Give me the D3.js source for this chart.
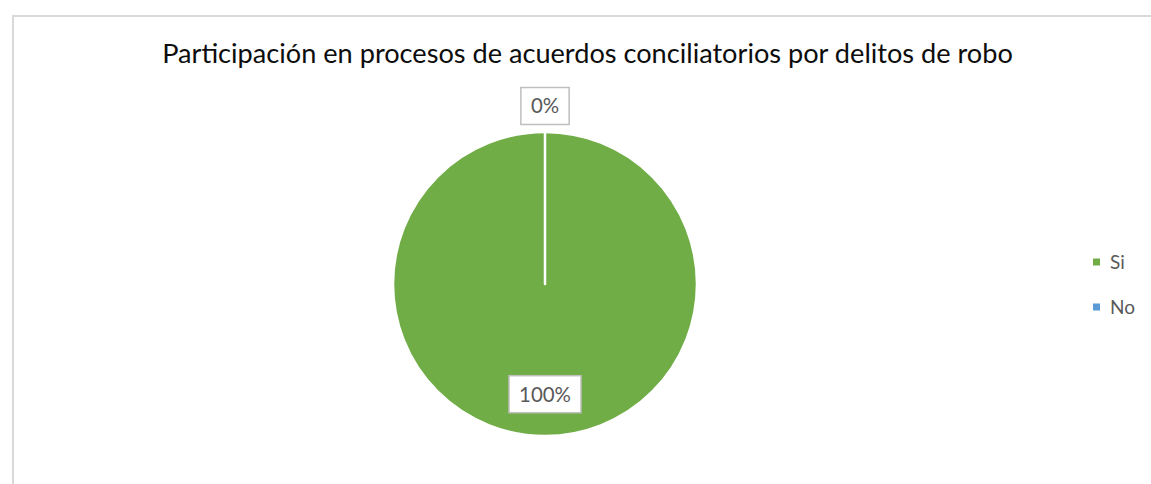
<!DOCTYPE html>
<html>
<head>
<meta charset="utf-8">
<script src="https://cdn.jsdelivr.net/npm/d3@7"></script>
<style>
  body { margin: 0; background: #fff; }
  svg { display: block; font-family: "Lato", "Open Sans", sans-serif; }
</style>
</head>
<body>
<div id="chart"></div>
<script>
// Pie data
var categories = ["Si", "No"];
var values = [100, 0];
var colours = ["#70ad47", "#5b9bd5"];
var title = "Participación en procesos de acuerdos conciliatorios por delitos de robo";

var width = 1151, height = 484;
var cx = 545, cy = 284, radius = 152;

var svg = d3.select("#chart").append("svg")
    .attr("width", width)
    .attr("height", height);

// scale a text's font-size so it covers a given width
function fitText(sel, baseSize, targetWidth) {
    sel.style("font-size", baseSize + "px");
    var w = sel.node().getComputedTextLength();
    var size = baseSize * targetWidth / w;
    sel.style("font-size", size + "px");
    return size;
}

// Chart frame (right and bottom edges fall outside the picture)
svg.append("rect")
    .attr("x", 13).attr("y", 16)
    .attr("width", 1160).attr("height", 500)
    .attr("fill", "#fff")
    .attr("stroke", "#d9d9d9")
    .attr("stroke-width", 2);

// Title
var titleText = svg.append("text")
    .attr("x", 587.5)
    .attr("y", 63)
    .attr("text-anchor", "middle")
    .attr("fill", "#0d0d0d")
    .text(title);
fitText(titleText, 22, 851);

var pie = d3.pie().sort(null).value(function (d) { return d; });
var arcs = pie(values);
var arc = d3.arc().innerRadius(0).outerRadius(radius);

var g = svg.append("g")
    .attr("transform", "translate(" + cx + "," + cy + ")");

g.selectAll("path.slice")
    .data(arcs)
    .enter()
    .append("path")
    .attr("class", "slice")
    .attr("d", arc)
    .attr("fill", function (d, i) { return colours[i]; })
    .attr("stroke", "#fff")
    .attr("stroke-width", 2.5)
    .attr("stroke-linejoin", "round");

// Data labels: inside for big slices, just outside for empty ones
var labelArcIn = d3.arc().innerRadius(radius * 0.725).outerRadius(radius * 0.725);
var labelArcOut = d3.arc().innerRadius(radius + 26).outerRadius(radius + 26);
var total = d3.sum(values);

var probe = svg.append("text").text("100%");
var labelSize = fitText(probe, 20, 52);
probe.remove();

var labels = g.selectAll("g.label")
    .data(arcs)
    .enter()
    .append("g")
    .attr("class", "label")
    .attr("transform", function (d) {
        var c = (d.endAngle - d.startAngle) > 0.5 ? labelArcIn.centroid(d) : labelArcOut.centroid(d);
        return "translate(" + c[0] + "," + c[1] + ")";
    });

labels.append("text")
    .attr("text-anchor", "middle")
    .attr("dy", "0.36em")
    .attr("fill", "#595959")
    .style("font-size", labelSize + "px")
    .text(function (d) { return Math.round(d.value / total * 100) + "%"; });

labels.each(function () {
    var grp = d3.select(this);
    var tw = grp.select("text").node().getComputedTextLength();
    var padX = 10, boxH = 37;
    grp.insert("rect", "text")
        .attr("x", -tw / 2 - padX)
        .attr("y", -boxH / 2)
        .attr("width", tw + padX * 2)
        .attr("height", boxH)
        .attr("fill", "#fff")
        .attr("stroke", "#bfbfbf")
        .attr("stroke-width", 1.5);
});

// Legend
var legend = svg.append("g")
    .attr("transform", "translate(1093, 262)");

var legendItem = legend.selectAll("g")
    .data(categories)
    .enter()
    .append("g")
    .attr("transform", function (d, i) { return "translate(0," + (i * 45) + ")"; });

legendItem.append("rect")
    .attr("x", 0).attr("y", -3.5)
    .attr("width", 7).attr("height", 7)
    .attr("fill", function (d, i) { return colours[i]; });

var legendProbe = svg.append("text").text("No");
var legendSize = fitText(legendProbe, 20, 25);
legendProbe.remove();

legendItem.append("text")
    .attr("x", 17)
    .attr("dy", "0.36em")
    .attr("fill", "#595959")
    .style("font-size", legendSize + "px")
    .text(function (d) { return d; });
</script>
</body>
</html>
